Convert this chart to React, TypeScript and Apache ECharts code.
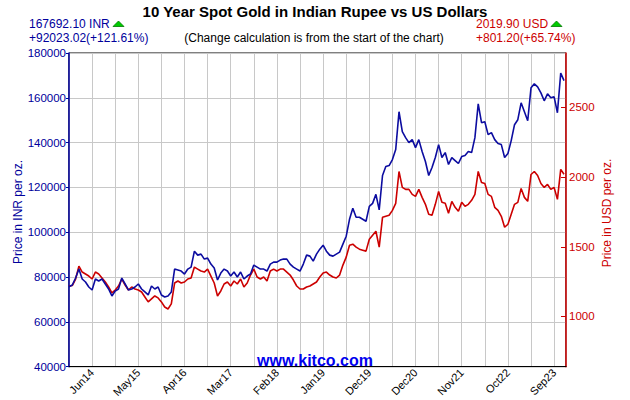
import React, { useEffect, useRef } from "react";
import * as echarts from "echarts";

// Tick labels on the x axis (placed at every second vertical gridline)
const xLabels = ["Jun14", "May15", "Apr16", "Mar17", "Feb18", "Jan19", "Dec19", "Dec20", "Nov21", "Oct22", "Sep23"];

// Right axis tick values (USD)
const usdTicks = [1000, 1500, 2000, 2500];

// Spot gold in INR per oz (sampled along the chart)
const inrValues = [
  75669, 76444, 79556, 83556, 79111, 77778, 75556, 74222, 79111, 78222,
  79111, 76889, 74667, 71556, 73778, 74667, 79556, 76889, 74222, 74667,
  75556, 76889, 74667, 73333, 72000, 76000, 74667, 75556, 72000, 71111,
  71556, 73333, 83556, 83111, 82667, 81333, 83556, 84444, 91556, 89778,
  90222, 88000, 88444, 85778, 84000, 78667, 81778, 83556, 82667, 80444,
  82222, 80000, 82222, 79111, 80444, 81333, 85333, 84444, 83556, 83556,
  82667, 85778, 86667, 86667, 87556, 88000, 88000, 85778, 84444, 83556,
  82667, 85778, 89778, 89333, 87111, 90222, 92444, 94222, 91556, 89778,
  89333, 90222, 91111, 94667, 98222, 105778, 110667, 106667, 106667, 105778,
  104889, 111556, 112889, 116889, 110000, 125333, 129333, 129778, 132444, 136889,
  153778, 144889, 142222, 140000, 141333, 137778, 141333, 136000, 131556, 125333,
  128889, 133333, 139111, 133333, 135556, 130222, 133333, 132000, 130667, 133778,
  134222, 136000, 135556, 142222, 157333, 148889, 149333, 143556, 144444, 141333,
  139556, 139111, 133333, 135111, 140889, 148000, 150222, 157778, 153778, 149778,
  164444, 166222, 164889, 162222, 158667, 161778, 160000, 160444, 153333, 171000,
  167692,
];

// Spot gold in USD per oz (sampled along the chart)
const usdValues = [
  1218.7, 1222, 1268.6, 1361.4, 1318.6, 1304.3, 1290, 1268.6, 1318.6, 1304.3,
  1275.7, 1247.1, 1211.4, 1168.6, 1190, 1218.6, 1268.6, 1225.7, 1190, 1211.4,
  1197.1, 1190, 1175.7, 1140, 1104.3, 1125.7, 1147.1, 1132.9, 1104.3, 1067.9,
  1053.6, 1090, 1240, 1254.3, 1240, 1247.1, 1268.6, 1275.7, 1354.3, 1340,
  1325.7, 1318.6, 1340, 1290, 1240, 1147.1, 1182.9, 1232.9, 1247.1, 1218.6,
  1254.3, 1232.9, 1268.6, 1211.4, 1240, 1297.1, 1340, 1282.9, 1268.6, 1282.9,
  1254.3, 1325.7, 1340, 1325.7, 1340, 1340, 1318.6, 1297.1, 1261.4, 1218.6,
  1197.1, 1197.1, 1211.4, 1218.6, 1232.9, 1247.1, 1282.9, 1311.4, 1318.6, 1297.1,
  1282.9, 1275.7, 1297.1, 1368.6, 1425.7, 1511.4, 1518.6, 1497.1, 1482.9, 1475.7,
  1468.6, 1554.3, 1582.9, 1611.4, 1497, 1711.4, 1718.6, 1725.7, 1761.4, 1811.4,
  2040, 1925.7, 1911.4, 1911.4, 1875.7, 1861.4, 1911.4, 1854.3, 1804.3, 1732.9,
  1725.7, 1804.3, 1897.1, 1818.6, 1811.4, 1740, 1825.7, 1782.9, 1754.3, 1818.6,
  1790, 1804.3, 1832.9, 1875.7, 2040, 1961.4, 1954.3, 1875.7, 1861.4, 1782.9,
  1761.4, 1718.6, 1640, 1661.4, 1732.9, 1804.3, 1818.6, 1918.6, 1854.3, 1825.7,
  2018.6, 2040, 2011.4, 1954.3, 1925.7, 1947.1, 1911.4, 1925.7, 1840, 2055,
  2019.9,
];

const FONT = "'Liberation Sans', Arial, sans-serif";
const BLUE_TEXT = "#00009c";
const BLUE_LINE = "#0c0ca0";
const RED = "#cc0000";

export default function App() {
  const ref = useRef<HTMLDivElement>(null);

  useEffect(() => {
    if (!ref.current) return;
    const chart = echarts.init(ref.current, null, { renderer: "svg" });

    const step = 7; // data points per gridline interval
    const inrData = inrValues.map((v, i) => [i, v]);
    const usdData = usdValues.map((v, i) => [i, v]);

    chart.setOption({
      animation: false,
      backgroundColor: "#ffffff",
      grid: {
        left: 69,
        right: 64,
        top: 53,
        bottom: 32,
        show: true,
        borderColor: "#000",
        borderWidth: 1,
        backgroundColor: "transparent",
      },
      xAxis: {
        type: "value",
        min: 0,
        max: 150.6,
        interval: step,
        axisLine: { show: true, lineStyle: { color: "#000", width: 1 } },
        axisTick: { show: false },
        splitLine: { show: true, lineStyle: { color: "#c8c8c8", width: 1 } },
        axisLabel: {
          rotate: 45,
          fontSize: 11,
          fontFamily: FONT,
          color: "#000",
          margin: 4,
          formatter: (v: number) => {
            const k = Math.round(v / step);
            if (Math.abs(v - k * step) > 0.01) return "";
            if (k % 2 === 1) return xLabels[(k - 1) / 2] ?? "";
            return "";
          },
        },
      },
      yAxis: [
        {
          type: "value",
          min: 40000,
          max: 180000,
          interval: 20000,
          position: "left",
          axisLine: { show: true, lineStyle: { color: BLUE_TEXT, width: 1.5 } },
          axisTick: { show: true, length: 3, lineStyle: { color: BLUE_TEXT } },
          splitLine: { show: true, lineStyle: { color: "#c8c8c8", width: 1 } },
          axisLabel: {
            color: BLUE_TEXT,
            fontSize: 11.5,
            fontFamily: FONT,
            margin: 3,
            formatter: (v: number) => String(v),
          },
        },
        {
          type: "value",
          min: 640,
          max: 2890,
          position: "right",
          axisLine: { show: true, lineStyle: { color: RED, width: 1.5 } },
          axisTick: {
            show: true,
            inside: true,
            length: 5,
            lineStyle: { color: RED },
            customValues: usdTicks,
          },
          splitLine: { show: false },
          axisLabel: {
            color: RED,
            fontSize: 11.5,
            fontFamily: FONT,
            margin: 3,
            customValues: usdTicks,
            formatter: (v: number) => String(v),
          },
        },
      ],
      series: [
        {
          name: "INR",
          type: "line",
          yAxisIndex: 0,
          data: inrData,
          showSymbol: false,
          lineStyle: { color: BLUE_LINE, width: 1.6 },
          itemStyle: { color: BLUE_LINE },
          z: 3,
        },
        {
          name: "USD",
          type: "line",
          yAxisIndex: 1,
          data: usdData,
          showSymbol: false,
          lineStyle: { color: RED, width: 1.6 },
          itemStyle: { color: RED },
          z: 2,
        },
      ],
      graphic: [
        {
          type: "text",
          x: 315,
          y: 11,
          style: {
            text: "10 Year Spot Gold in Indian Rupee vs US Dollars",
            fill: "#000",
            font: `bold 15px ${FONT}`,
            align: "center",
            verticalAlign: "middle",
          },
        },
        {
          type: "text",
          x: 29,
          y: 24,
          style: { text: "167692.10 INR", fill: BLUE_TEXT, font: `12px ${FONT}`, align: "left", verticalAlign: "middle" },
        },
        {
          type: "polygon",
          shape: { points: [[113, 26.5], [118.5, 21], [124, 26.5]] },
          style: { fill: "#00cc00", stroke: "#007700", lineWidth: 0.8 },
        },
        {
          type: "text",
          x: 29,
          y: 38,
          style: { text: "+92023.02(+121.61%)", fill: BLUE_TEXT, font: `12px ${FONT}`, align: "left", verticalAlign: "middle" },
        },
        {
          type: "text",
          x: 314,
          y: 38,
          style: {
            text: "(Change calculation is from the start of the chart)",
            fill: "#000",
            font: `12px ${FONT}`,
            align: "center",
            verticalAlign: "middle",
          },
        },
        {
          type: "text",
          x: 476,
          y: 24,
          style: { text: "2019.90 USD", fill: RED, font: `12px ${FONT}`, align: "left", verticalAlign: "middle" },
        },
        {
          type: "polygon",
          shape: { points: [[551, 26.5], [556.5, 21], [562, 26.5]] },
          style: { fill: "#00cc00", stroke: "#007700", lineWidth: 0.8 },
        },
        {
          type: "text",
          x: 476,
          y: 38,
          style: { text: "+801.20(+65.74%)", fill: RED, font: `12px ${FONT}`, align: "left", verticalAlign: "middle" },
        },
        {
          type: "text",
          x: 18,
          y: 212,
          rotation: Math.PI / 2,
          style: { text: "Price in INR per oz.", fill: BLUE_TEXT, font: `12px ${FONT}`, align: "center", verticalAlign: "middle" },
        },
        {
          type: "text",
          x: 607,
          y: 213,
          rotation: Math.PI / 2,
          style: { text: "Price in USD per oz.", fill: RED, font: `12px ${FONT}`, align: "center", verticalAlign: "middle" },
        },
        {
          type: "text",
          x: 315,
          y: 360,
          z: 10,
          style: { text: "www.kitco.com", fill: "#0000ee", font: `bold 16px ${FONT}`, align: "center", verticalAlign: "middle" },
        },
      ],
    });

    return () => chart.dispose();
  }, []);

  return (
    <div
      ref={ref}
      style={{ position: "fixed", left: 0, top: 0, width: 630, height: 400, background: "#fff" }}
    />
  );
}
